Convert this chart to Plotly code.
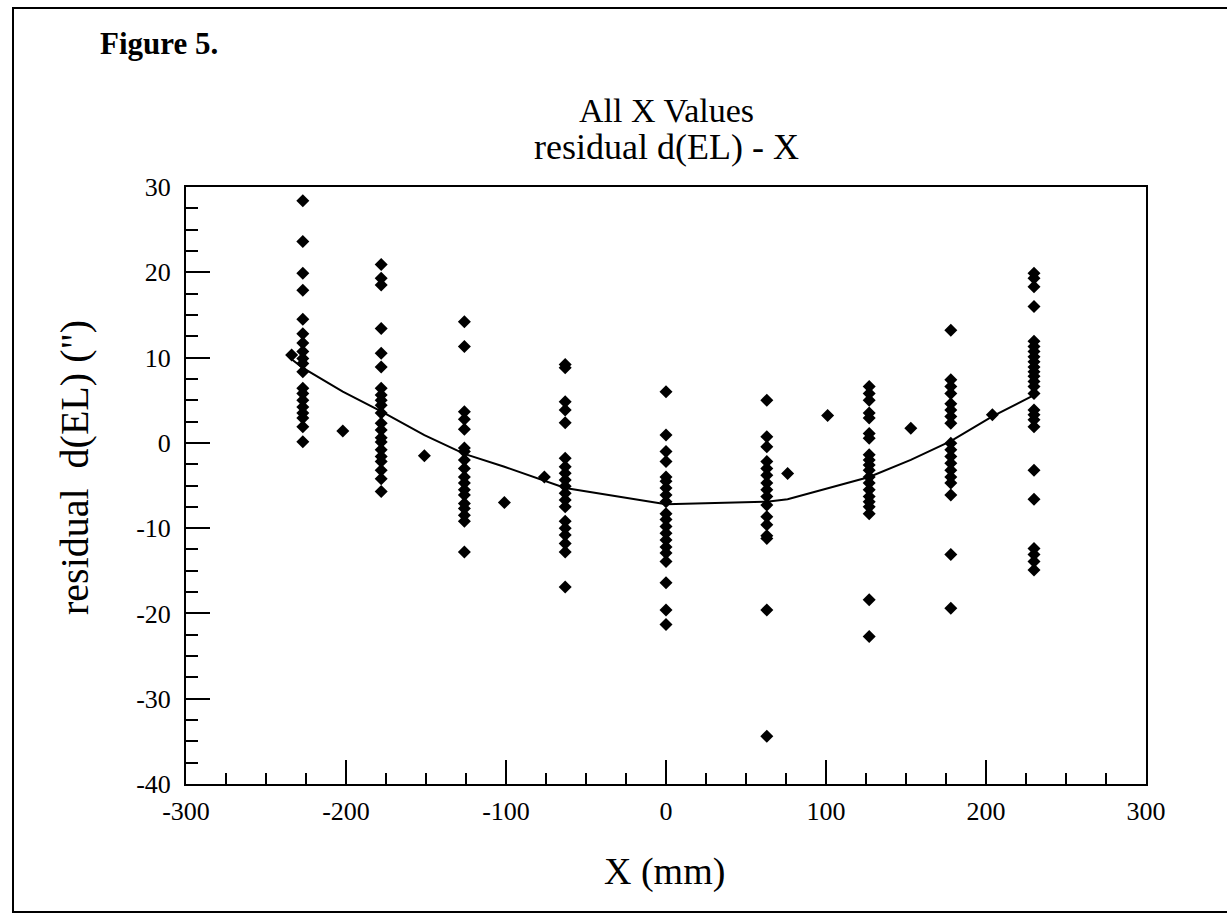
import plotly.graph_objects as go

# ---- data ----
cluster_x = [-227, -178, -126, -63, 0, 63, 127, 178, 230]

res_m227 = [28.4, 23.6, 19.9, 17.9, 14.5, 12.8, 11.7, 10.7, 9.9, 9.3, 8.35, 6.4, 5.8, 5.0, 4.2, 3.5, 2.9, 1.9, 0.14]
res_m178 = [20.9, 19.3, 18.5, 13.4, 10.5, 8.9, 6.4, 5.6, 5.0, 4.4, 3.5, 2.3, 1.5, 0.6, 0.1, -0.8, -1.6, -2.2, -3.2, -4.2, -5.7]
res_m126 = [14.2, 11.3, 3.66, 2.77, 1.6, -0.6, -1.0, -2.0, -3.0, -4.0, -4.7, -5.5, -6.1, -7.1, -7.7, -8.5, -9.2, -12.8]
res_m63 = [9.2, 8.8, 4.83, 3.86, 2.37, -1.8, -2.8, -3.56, -4.35, -5.1, -5.9, -6.7, -7.5, -9.2, -10.0, -10.8, -11.8, -12.8, -16.9]
res_0 = [6.0, 0.93, -1.0, -2.2, -4.0, -4.5, -5.3, -6.1, -6.9, -8.3, -9.0, -9.8, -10.6, -11.4, -12.2, -12.9, -13.9, -16.4, -19.6, -21.3]
res_63 = [5.0, 0.73, -0.45, -2.2, -3.0, -3.8, -4.7, -5.5, -6.3, -7.3, -8.65, -9.6, -10.9, -11.2, -19.6, -34.4]
res_127 = [6.6, 5.8, 5.0, 3.5, 2.9, 1.1, 0.54, -1.4, -2.0, -2.6, -3.2, -4.0, -4.7, -5.5, -6.3, -6.9, -7.5, -8.3, -18.4, -22.7]
res_178 = [13.2, 7.4, 6.6, 5.8, 4.6, 3.86, 3.1, 2.3, -0.05, -0.8, -1.6, -2.4, -3.2, -4.0, -4.7, -6.1, -13.1, -19.4]
res_230 = [19.9, 19.3, 18.3, 16.0, 11.9, 11.3, 10.7, 10.1, 9.5, 8.9, 8.35, 7.8, 7.2, 6.6, 5.8, 3.86, 3.3, 2.7, 1.9, -3.2, -6.6, -12.4, -13.1, -13.9, -14.9]

single_x = [-234, -202, -151, -101, -76, 76, 101, 153, 204]
single_y = [10.3, 1.4, -1.5, -7.0, -4.0, -3.6, 3.2, 1.7, 3.3]

fit_x = [-234, -227, -202, -178, -151, -126, -101, -76, -63, 0, 63, 76, 101, 127, 153, 178, 204, 230]
fit_y = [9.8, 8.8, 6.0, 3.7, 0.9, -1.3, -2.8, -4.4, -5.3, -7.2, -6.9, -6.6, -5.3, -4.0, -2.0, 0.2, 3.1, 5.6]

x_ticks = [-300, -200, -100, 0, 100, 200, 300]
y_ticks = [30, 20, 10, 0, -10, -20, -30, -40]

title_line1 = "All X Values"
title_line2 = "residual d(EL) - X"
fig_label = "Figure 5."
x_title = "X (mm)"
y_title = "residual  d(EL) (\")"

# ---- build ----
clusters = [res_m227, res_m178, res_m126, res_m63, res_0, res_63, res_127, res_178, res_230]
pts_x, pts_y = [], []
for cx, vals in zip(cluster_x, clusters):
    pts_x += [cx] * len(vals)
    pts_y += vals
pts_x += single_x
pts_y += single_y

FONT = "Liberation Serif"
W, H = 1227, 914
L, R, T, B = 186, 1146, 187, 784


def px(xp):
    return (xp - L) / (R - L)


def py(yp):
    return (B - yp) / (B - T)


fig = go.Figure()
fig.add_trace(go.Scatter(x=fit_x, y=fit_y, mode="lines",
                         line=dict(color="black", width=2), hoverinfo="skip"))
fig.add_trace(go.Scatter(x=pts_x, y=pts_y, mode="markers",
                         marker=dict(symbol="diamond", size=10, color="black",
                                     line=dict(width=0))))

axis_common = dict(showgrid=False, zeroline=False, showline=True, linecolor="black",
                   linewidth=2, mirror=True, ticks="inside", tickcolor="black",
                   tickwidth=1.6, ticklen=24,
                   tickfont=dict(family=FONT, size=26, color="black"))

fig.update_xaxes(range=[-300, 300], tickvals=x_ticks, ticktext=[str(v) for v in x_ticks],
                 ticklabelstandoff=3,
                 minor=dict(dtick=25, tick0=0, ticks="inside", ticklen=11,
                            tickcolor="black", tickwidth=1.6, showgrid=False),
                 **axis_common)
fig.update_yaxes(range=[-40, 30], tickvals=y_ticks, ticktext=[str(v) for v in y_ticks],
                 ticklabelstandoff=8,
                 minor=dict(dtick=2.5, tick0=0, ticks="inside", ticklen=12,
                            tickcolor="black", tickwidth=1.6, showgrid=False),
                 **axis_common)

annotations = [
    dict(text="<b>" + fig_label + "</b>", x=px(98), y=py(43), xanchor="left", yanchor="middle",
         font=dict(family=FONT, size=31, color="black")),
    dict(text=title_line1, x=px(666), y=py(111), xanchor="center", yanchor="middle",
         font=dict(family=FONT, size=34, color="black")),
    dict(text=title_line2, x=px(666), y=py(147), xanchor="center", yanchor="middle",
         font=dict(family=FONT, size=36, color="black")),
    dict(text=x_title, x=px(664), y=py(872), xanchor="center", yanchor="middle",
         font=dict(family=FONT, size=38, color="black")),
    dict(text=y_title, x=px(74), y=py(468), xanchor="center", yanchor="middle",
         textangle=-90, font=dict(family=FONT, size=40, color="black")),
]
for a in annotations:
    a.update(xref="paper", yref="paper", showarrow=False)

fig.update_layout(
    width=W, height=H,
    margin=dict(l=L, r=W - R, t=T, b=H - B, pad=0),
    paper_bgcolor="white", plot_bgcolor="white",
    showlegend=False,
    annotations=annotations,
    shapes=[dict(type="rect", xref="paper", yref="paper",
                 x0=px(13), x1=px(1232), y0=py(912), y1=py(8),
                 line=dict(color="black", width=2), fillcolor="rgba(0,0,0,0)",
                 layer="below")],
)

fig.write_html("out.html")
